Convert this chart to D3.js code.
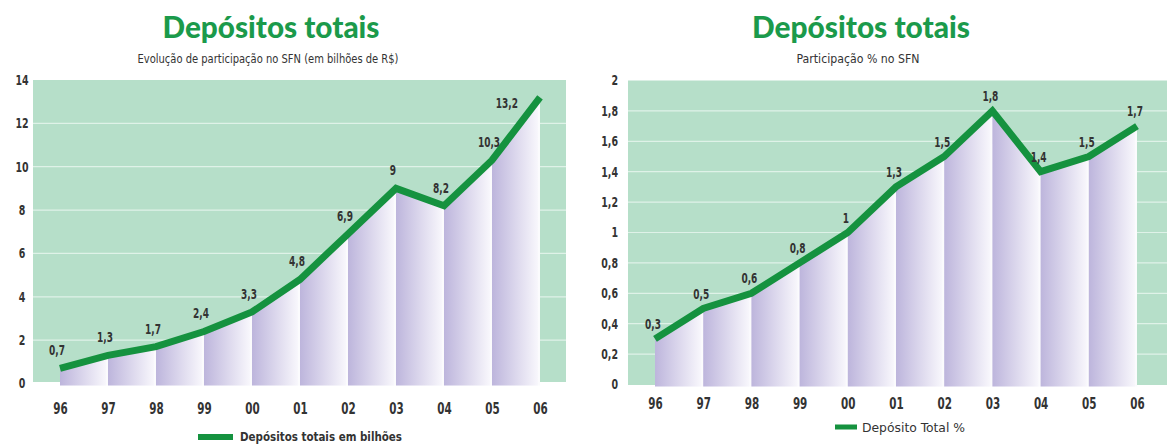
<!DOCTYPE html>
<html lang="pt">
<head>
<meta charset="utf-8">
<script src="https://cdn.jsdelivr.net/npm/d3@7"></script>
<style>
  html, body { margin: 0; padding: 0; background: #fff; }
  svg { display: block; }
  .num { font-family: "Liberation Sans Narrow", "DejaVu Sans Condensed", "Arial Narrow", sans-serif; font-weight: bold; fill: #333; }
  .title { font-family: Lato, "Open Sans", sans-serif; font-weight: 900; fill: #1b9a4b; }
  .sub { font-family: "Liberation Sans Narrow", "DejaVu Sans Condensed", sans-serif; fill: #333; }
</style>
</head>
<body>
<svg id="chart" width="1167" height="445"></svg>
<script>
// Anos (eixo X), comum aos dois gráficos
const years = ["96", "97", "98", "99", "00", "01", "02", "03", "04", "05", "06"];

// Depósitos totais em bilhões de R$
const depositosBilhoes = [0.7, 1.3, 1.7, 2.4, 3.3, 4.8, 6.9, 9, 8.2, 10.3, 13.2];
const ticksBilhoes = [0, 2, 4, 6, 8, 10, 12, 14];

// Participação % no SFN
const participacaoPct = [0.3, 0.5, 0.6, 0.8, 1, 1.3, 1.5, 1.8, 1.4, 1.5, 1.7];
const ticksPct = [0, 0.2, 0.4, 0.6, 0.8, 1, 1.2, 1.4, 1.6, 1.8, 2];

const svg = d3.select("#chart");
const fmt = v => String(v).replace(".", ",");

const LINE_GREEN = "#15923f";
const BG_GREEN = "#b6dfc9";

// Gradiente das faixas sob a linha: lilás à esquerda, branco à direita
const defs = svg.append("defs");
const grad = defs.append("linearGradient").attr("id", "faixa")
  .attr("x1", 0).attr("x2", 1).attr("y1", 0).attr("y2", 0);
grad.append("stop").attr("offset", "0%").attr("stop-color", "#bdb5dc");
grad.append("stop").attr("offset", "100%").attr("stop-color", "#f8f7fc");

// Estreita horizontalmente um texto (tipografia condensada)
function squeeze(sel, factor) {
  sel.each(function () {
    const len = this.getComputedTextLength();
    d3.select(this).attr("textLength", len * factor).attr("lengthAdjust", "spacingAndGlyphs");
  });
}

function panel(cfg) {
  const g = svg.append("g");
  const x = d3.scalePoint().domain(years).range(cfg.xRange);
  const y = d3.scaleLinear().domain([0, cfg.max]).range(cfg.yRange);

  // Título e subtítulo
  g.append("text").attr("class", "title")
    .attr("x", cfg.titleX).attr("y", 38).attr("text-anchor", "middle")
    .attr("font-size", 31)
    .attr("textLength", cfg.titleW).attr("lengthAdjust", "spacingAndGlyphs")
    .text("Depósitos totais");
  g.append("text").attr("class", "sub")
    .attr("x", cfg.subX).attr("y", 63).attr("text-anchor", "middle")
    .attr("font-size", 12)
    .attr("textLength", cfg.subW).attr("lengthAdjust", "spacingAndGlyphs")
    .text(cfg.subtitle);

  // Fundo verde da área de plotagem
  g.append("rect")
    .attr("x", cfg.bg[0]).attr("y", y(cfg.max))
    .attr("width", cfg.bg[1] - cfg.bg[0])
    .attr("height", cfg.bgBottom - y(cfg.max))
    .attr("fill", BG_GREEN);

  // Linhas de grade
  g.selectAll("line.grid")
    .data(cfg.ticks.filter(t => t > 0 && t < cfg.max))
    .join("line")
    .attr("x1", cfg.bg[0]).attr("x2", cfg.bg[1])
    .attr("y1", d => y(d)).attr("y2", d => y(d))
    .attr("stroke", "#dff2e8").attr("stroke-width", 1.2);

  // Eixo Y (apenas rótulos)
  const yAxis = d3.axisLeft(y).tickValues(cfg.ticks).tickSize(0).tickFormat(fmt);
  const ya = g.append("g").attr("transform", `translate(${cfg.yLabelX},0)`).call(yAxis);
  ya.select(".domain").remove();
  ya.selectAll("text").attr("class", "num").attr("font-size", 14)
    .attr("x", 0).attr("text-anchor", cfg.yAnchor);
  squeeze(ya.selectAll("text"), 0.75);

  const pts = cfg.values.map((v, i) => [x(years[i]), y(v)]);
  const y0 = y(0);
  const area = d3.area().x(d => d[0]).y0(y0 + 2).y1(d => d[1]);

  // Base branca sob a linha (aparece nas frestas entre as faixas)
  g.append("path").datum(pts).attr("d", area).attr("fill", "#fbfbfd");

  // Faixas verticais entre anos consecutivos
  const gap = 2;
  const strips = d3.range(pts.length - 1).map(i => {
    const [xa, ya0] = pts[i], [xb, yb] = pts[i + 1];
    const xe = xb - gap;
    const ye = ya0 + (yb - ya0) * (xe - xa) / (xb - xa);
    return [[xa, ya0], [xe, ye]];
  });
  g.selectAll("path.strip").data(strips).join("path")
    .attr("d", area).attr("fill", "url(#faixa)");

  // Linha principal
  g.append("path").datum(pts)
    .attr("d", d3.line())
    .attr("fill", "none").attr("stroke", LINE_GREEN)
    .attr("stroke-width", 7).attr("stroke-linejoin", "miter");

  // Eixo X
  const xAxis = d3.axisBottom(x).tickSize(0);
  const xa = g.append("g").attr("transform", `translate(0,${cfg.xLabelY})`).call(xAxis);
  xa.select(".domain").remove();
  xa.selectAll("text").attr("class", "num").attr("font-size", 16).attr("dy", "0.35em").attr("y", 0);
  squeeze(xa.selectAll("text"), 0.72);

  // Rótulos de valor
  const last = cfg.values.length - 1;
  const vals = g.selectAll("text.val").data(cfg.values).join("text")
    .attr("class", "num val").attr("font-size", 13.5)
    .attr("text-anchor", (d, i) => i === last && cfg.lastLeft ? "end" : "middle")
    .attr("x", (d, i) => i === last && cfg.lastLeft ? x(years[i]) - 22 : x(years[i]) + cfg.labelDx)
    .attr("y", (d, i) => i === last && cfg.lastLeft ? y(d) + 11 : y(d) + cfg.labelDy)
    .text(fmt);
  squeeze(vals, 0.74);

  // Legenda
  g.append("rect").attr("x", cfg.legend.x).attr("y", cfg.legend.y - cfg.legend.h / 2)
    .attr("width", cfg.legend.w).attr("height", cfg.legend.h).attr("fill", LINE_GREEN);
  g.append("text")
    .attr("x", cfg.legend.x + cfg.legend.w + cfg.legend.pad).attr("y", cfg.legend.y)
    .attr("dy", "0.35em")
    .attr("class", cfg.legend.bold ? "num" : "sub")
    .attr("font-size", cfg.legend.size)
    .attr("fill", "#333")
    .attr("textLength", cfg.legend.tw).attr("lengthAdjust", "spacingAndGlyphs")
    .text(cfg.legend.label);
}

panel({
  values: depositosBilhoes, ticks: ticksBilhoes, max: 14,
  xRange: [60, 540], yRange: [383.5, 80],
  bg: [33, 566], bgBottom: 382,
  yLabelX: 22, yAnchor: "middle",
  xLabelY: 408,
  titleX: 271, titleW: 217,
  subtitle: "Evolução de participação no SFN (em bilhões de R$)", subX: 268, subW: 261,
  labelDx: -3, labelDy: -13, lastLeft: true,
  legend: { x: 198, y: 437, w: 35, h: 6, pad: 7, label: "Depósitos totais em bilhões", bold: true, size: 12.5, tw: 162 }
});

panel({
  values: participacaoPct, ticks: ticksPct, max: 2,
  xRange: [655, 1137], yRange: [384.5, 80.5],
  bg: [628, 1167], bgBottom: 385,
  yLabelX: 618, yAnchor: "end",
  xLabelY: 403,
  titleX: 861, titleW: 218,
  subtitle: "Participação % no SFN", subX: 858, subW: 123,
  labelDx: -2, labelDy: -10, lastLeft: false,
  legend: { x: 835, y: 427, w: 22, h: 5, pad: 5, label: "Depósito Total %", bold: false, size: 13, tw: 103 }
});
</script>
</body>
</html>
